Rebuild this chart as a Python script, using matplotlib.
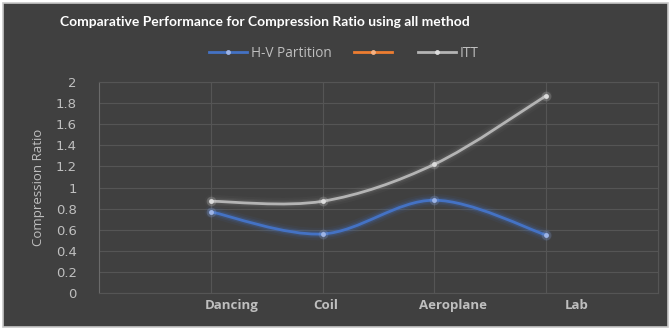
import numpy as np
import matplotlib as mpl
mpl.use('agg')
import matplotlib.pyplot as plt
from matplotlib.path import Path
from matplotlib.patches import PathPatch, Rectangle
from matplotlib.lines import Line2D
import matplotlib.transforms as mtransforms

categories = ['Dancing', 'Coil', 'Aeroplane', 'Lab']
hv_partition = [0.77, 0.56, 0.88, 0.55]
itt = [0.87, 0.87, 1.22, 1.87]
yticks = [0, 0.2, 0.4, 0.6, 0.8, 1, 1.2, 1.4, 1.6, 1.8, 2]

bg = '#404040'
txt = '#bfbfbf'
grid = '#555555'


def smooth_path(x, y):
    # catmull-rom through the points, as cubic bezier segments (like excel's smoothed line)
    pts = np.column_stack([x, y]).astype(float)
    p = np.vstack([pts[0], pts, pts[-1]])
    verts = [pts[0]]
    codes = [Path.MOVETO]
    for i in range(1, len(p) - 2):
        c1 = p[i] + (p[i + 1] - p[i - 1]) / 6
        c2 = p[i + 1] - (p[i + 2] - p[i]) / 6
        verts += [c1, c2, p[i + 1]]
        codes += [Path.CURVE4] * 3
    return Path(verts, codes)


fig = plt.figure(figsize=(6.7, 3.3), dpi=100, facecolor='white')
fig.patches.append(Rectangle((0.004, 0.01), 0.993, 0.982, transform=fig.transFigure,
                             facecolor=bg, edgecolor='#c8c8c8', linewidth=1.2, zorder=-10))

ax = fig.add_axes([0.1478, 0.112, 0.834, 0.6394])
ax.set_facecolor(bg)
xs = np.arange(1, len(categories) + 1)

series = [(hv_partition, '#4472c4', '#9db4e6', 1.0), (itt, '#b4b4b4', '#dcdcdc', 0.5)]
for vals, col, mcol, glow in series:
    path = smooth_path(xs, vals)
    for lw, a in [(9, 0.07), (6, 0.12), (4, 0.2)]:
        ax.add_patch(PathPatch(path, facecolor='none', edgecolor=col, lw=lw, alpha=a * glow,
                               capstyle='round', zorder=3))
    ax.add_patch(PathPatch(path, facecolor='none', edgecolor=col, lw=2.0, zorder=4))
    ax.plot(xs, vals, 'o', ms=7, color=mcol, alpha=0.2, mec='none', zorder=5)
    ax.plot(xs, vals, 'o', ms=3.5, color=mcol, mec='none', zorder=6)

ax.set_xlim(0, 5)
ax.set_ylim(0, 2)
ax.set_yticks(yticks)
ax.set_yticklabels([f'{v:g}' for v in yticks], color=txt, fontsize=9.5)
ax.set_xticks(xs)
ax.set_xticklabels([])
# excel puts the category names a bit to the right of the gridlines
label_shift = [21, 3, 19, 31]
for x, lab, dx in zip(xs, categories, label_shift):
    tr = ax.get_xaxis_transform() + mtransforms.ScaledTranslation(dx / 100, -0.06, fig.dpi_scale_trans)
    ax.text(x, 0, lab, transform=tr, ha='center', va='top', color=txt, fontsize=9.5,
            fontweight='bold', family='Open Sans')
ax.tick_params(length=0)
ax.tick_params(axis='y', pad=16)
ax.grid(True, color=grid, lw=0.8)
ax.set_axisbelow(True)
for s in ['top', 'right', 'bottom']:
    ax.spines[s].set_color(grid)
ax.spines['left'].set_color('#6a6a6a')
ax.set_ylabel('Compression Ratio', color=txt, fontsize=9.5, family='Open Sans', labelpad=8)

fig.text(0.396, 0.932, 'Comparative Performance for Compression Ratio using all method',
         ha='center', va='center', color='white', fontsize=10, fontweight='bold', family='Lato')

handles = [Line2D([], [], color='#4472c4', lw=2, marker='o', ms=3.5, mfc='#9db4e6', mec='none'),
           Line2D([], [], color='#ed7d31', lw=2, marker='o', ms=3.5, mfc='#f4b183', mec='none'),
           Line2D([], [], color='#b4b4b4', lw=2, marker='o', ms=3.5, mfc='#dcdcdc', mec='none')]
leg = fig.legend(handles, ['H-V Partition', '', 'ITT'], loc='center', bbox_to_anchor=(0.513, 0.838),
                 ncol=3, frameon=False, labelcolor=txt, handlelength=2.8,
                 columnspacing=1.6, handletextpad=0.3, prop={'family': 'Open Sans', 'size': 9.8})

fig.savefig('out.png', dpi=100, facecolor='white')
